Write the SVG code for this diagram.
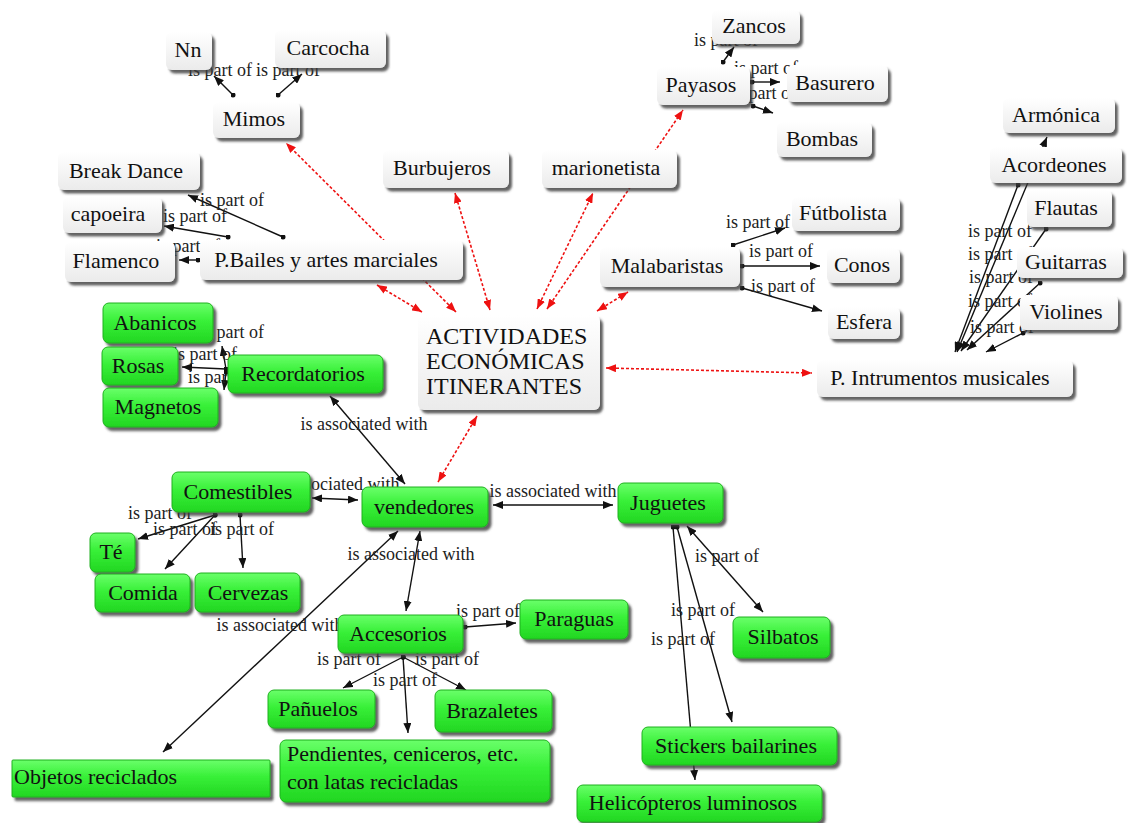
<svg xmlns="http://www.w3.org/2000/svg" width="1130" height="823" viewBox="0 0 1130 823">
<defs>
<linearGradient id="gGray" x1="0" y1="0" x2="0" y2="1"><stop offset="0" stop-color="#ffffff"/><stop offset="1" stop-color="#ebebeb"/></linearGradient>
<linearGradient id="gGreen" x1="0" y1="0" x2="0" y2="1"><stop offset="0" stop-color="#6aff6a"/><stop offset="0.45" stop-color="#38f038"/><stop offset="1" stop-color="#22d622"/></linearGradient>
<filter id="sh" x="-10%" y="-20%" width="130%" height="170%"><feDropShadow dx="3" dy="3.5" stdDeviation="1.2" flood-color="#3a3a3a" flood-opacity="0.8"/></filter>
<marker id="ar" viewBox="0 0 10 8" refX="10" refY="4" markerWidth="10" markerHeight="8" markerUnits="userSpaceOnUse" orient="auto-start-reverse"><path d="M0,0 L10,4 L0,8 z" fill="#111"/></marker>
<marker id="arr" viewBox="0 0 10 8" refX="10" refY="4" markerWidth="10" markerHeight="8" markerUnits="userSpaceOnUse" orient="auto-start-reverse"><path d="M0,0 L10,4 L0,8 z" fill="#ee1111"/></marker>
<marker id="dot" viewBox="0 0 6 6" refX="3" refY="3" markerWidth="5" markerHeight="5" markerUnits="userSpaceOnUse"><circle cx="3" cy="3" r="3" fill="#111"/></marker>
</defs>
<style>
.k{stroke:#111;stroke-width:1.4;fill:none}
.p{marker-start:url(#dot);marker-end:url(#ar)}
.a{marker-start:url(#ar);marker-end:url(#ar)}
.r{stroke:#ee1111;stroke-width:1.6;fill:none;stroke-dasharray:3 2;marker-start:url(#arr);marker-end:url(#arr)}
text{font-family:'Liberation Serif','Times New Roman','DejaVu Serif',serif}
.l{font-size:18px;fill:#222;text-anchor:middle}
.t{font-size:22px;fill:#111;text-anchor:middle}
.s{text-anchor:start}
.big{font-size:24px}
.gy{fill:url(#gGray);filter:url(#sh)}
.gr{fill:url(#gGreen);stroke:#1eb01e;stroke-width:1;filter:url(#sh)}
</style>
<rect width="1130" height="823" fill="#ffffff"/>
<g id="connectors">
<line class="r" x1="456" y1="312" x2="286" y2="143"/>
<line class="r" x1="422" y1="312" x2="377" y2="285"/>
<line class="r" x1="490" y1="310" x2="455" y2="193"/>
<line class="r" x1="537" y1="309" x2="593" y2="193"/>
<line class="r" x1="547" y1="309" x2="683" y2="110"/>
<line class="r" x1="597" y1="311" x2="628" y2="292"/>
<line class="r" x1="606" y1="368" x2="812" y2="373"/>
<line class="r" x1="477" y1="416" x2="438" y2="482"/>

<line class="k p" x1="233" y1="95" x2="214" y2="76"/>
<line class="k p" x1="278" y1="95" x2="302" y2="74"/>
<line class="k p" x1="283" y1="237" x2="188" y2="195"/>
<line class="k p" x1="228" y1="237" x2="164" y2="226"/>
<line class="k p" x1="198" y1="260" x2="179" y2="260"/>
<line class="k p" x1="723" y1="62" x2="734" y2="47"/>
<line class="k p" x1="752" y1="82" x2="780" y2="82"/>
<line class="k p" x1="753" y1="106" x2="773" y2="113"/>
<line class="k p" x1="733" y1="245" x2="785" y2="228"/>
<line class="k p" x1="742" y1="266" x2="820" y2="266"/>
<line class="k p" x1="742" y1="288" x2="822" y2="311"/>
<line class="k a" x1="1047" y1="137" x2="957" y2="352"/>
<line class="k p" x1="1018" y1="185" x2="955" y2="352"/>
<line class="k p" x1="1046" y1="229" x2="961" y2="351"/>
<line class="k p" x1="1040" y1="283" x2="967" y2="350"/>
<line class="k p" x1="1023" y1="333" x2="986" y2="352"/>
<line class="k p" x1="226" y1="369" x2="222" y2="346"/>
<line class="k p" x1="226" y1="369" x2="182" y2="367"/>
<line class="k p" x1="226" y1="372" x2="224" y2="390"/>
<line class="k p" x1="215" y1="515" x2="138" y2="539"/>
<line class="k p" x1="215" y1="515" x2="165" y2="569"/>
<line class="k p" x1="240" y1="515" x2="243" y2="568"/>
<line class="k p" x1="465" y1="627" x2="516" y2="623"/>
<line class="k p" x1="403" y1="657" x2="343" y2="688"/>
<line class="k p" x1="403" y1="657" x2="408" y2="733"/>
<line class="k p" x1="403" y1="657" x2="466" y2="690"/>
<line class="k a" x1="687" y1="526" x2="763" y2="612"/>
<line class="k p" x1="677" y1="527" x2="732" y2="722"/>
<line class="k p" x1="673" y1="527" x2="695" y2="780"/>
<line class="k a" x1="330" y1="396" x2="405" y2="484"/>
<line class="k a" x1="312" y1="498" x2="358" y2="500"/>
<line class="k a" x1="493" y1="505" x2="613" y2="505"/>
<line class="k a" x1="420" y1="531" x2="406" y2="611"/>
<line class="k a" x1="398" y1="531" x2="163" y2="752"/>

<text class="l" x="220" y="76">is part of</text>
<text class="l" x="288" y="76">is part of</text>
<text class="l" x="232" y="206">is part of</text>
<text class="l" x="195" y="222">is part of</text>
<text class="l" x="188" y="252">is part of</text>
<text class="l" x="726" y="46">is part of</text>
<text class="l" x="766" y="74">is part of</text>
<text class="l" x="764" y="99">is part of</text>
<text class="l" x="758" y="228">is part of</text>
<text class="l" x="781" y="257">is part of</text>
<text class="l" x="783" y="292">is part of</text>
<text class="l" x="1000" y="237">is part of</text>
<text class="l" x="1000" y="260">is part of</text>
<text class="l" x="1001" y="283">is part of</text>
<text class="l" x="1000" y="307">is part of</text>
<text class="l" x="1002" y="333">is part of</text>
<text class="l" x="232" y="338">is part of</text>
<text class="l" x="205" y="360">is part of</text>
<text class="l" x="220" y="383">is part of</text>
<text class="l" x="364" y="430">is associated with</text>
<text class="l" x="336" y="490">is associated with</text>
<text class="l" x="553" y="497">is associated with</text>
<text class="l" x="411" y="560">is associated with</text>
<text class="l" x="280" y="631">is associated with</text>
<text class="l" x="160" y="519">is part of</text>
<text class="l" x="185" y="535">is part of</text>
<text class="l" x="242" y="535">is part of</text>
<text class="l" x="488" y="617">is part of</text>
<text class="l" x="349" y="665">is part of</text>
<text class="l" x="447" y="665">is part of</text>
<text class="l" x="405" y="686">is part of</text>
<text class="l" x="727" y="562">is part of</text>
<text class="l" x="703" y="616">is part of</text>
<text class="l" x="683" y="645">is part of</text>
</g>

<g id="n-nn"><rect class="gy" x="166" y="32" width="46" height="38" rx="6"/><text class="t" x="188" y="57">Nn</text></g>
<g id="n-carcocha"><rect class="gy" x="275" y="30" width="111" height="38" rx="6"/><text class="t" x="328" y="55">Carcocha</text></g>
<g id="n-mimos"><rect class="gy" x="213" y="102" width="87" height="36" rx="6"/><text class="t" x="254" y="126">Mimos</text></g>
<g id="n-breakdance"><rect class="gy" x="58" y="152" width="142" height="38" rx="6"/><text class="t" x="126" y="178">Break Dance</text></g>
<g id="n-capoeira"><rect class="gy" x="63" y="197" width="99" height="36" rx="6"/><text class="t" x="108" y="221">capoeira</text></g>
<g id="n-flamenco"><rect class="gy" x="65" y="242" width="110" height="40" rx="6"/><text class="t" x="116" y="268">Flamenco</text></g>
<g id="n-pbailes"><rect class="gy" x="200" y="240" width="263" height="40" rx="6"/><text class="t" x="326" y="267">P.Bailes y artes marciales</text></g>
<g id="n-burbujeros"><rect class="gy" x="383" y="150" width="126" height="38" rx="6"/><text class="t" x="442" y="175">Burbujeros</text></g>
<g id="n-marionetista"><rect class="gy" x="542" y="150" width="135" height="38" rx="6"/><text class="t" x="606" y="175">marionetista</text></g>
<g id="n-payasos"><rect class="gy" x="657" y="67" width="93" height="38" rx="6"/><text class="t" x="701" y="92">Payasos</text></g>
<g id="n-zancos"><rect class="gy" x="712" y="10" width="88" height="34" rx="6"/><text class="t" x="754" y="33">Zancos</text></g>
<g id="n-basurero"><rect class="gy" x="787" y="65" width="101" height="37" rx="6"/><text class="t" x="835" y="90">Basurero</text></g>
<g id="n-bombas"><rect class="gy" x="777" y="122" width="95" height="35" rx="6"/><text class="t" x="822" y="146">Bombas</text></g>
<g id="n-malabaristas"><rect class="gy" x="600" y="247" width="140" height="40" rx="6"/><text class="t" x="667" y="273">Malabaristas</text></g>
<g id="n-futbolista"><rect class="gy" x="792" y="197" width="108" height="34" rx="6"/><text class="t" x="843" y="220">Fútbolista</text></g>
<g id="n-conos"><rect class="gy" x="827" y="248" width="73" height="35" rx="6"/><text class="t" x="862" y="272">Conos</text></g>
<g id="n-esfera"><rect class="gy" x="828" y="307" width="72" height="32" rx="6"/><text class="t" x="864" y="329">Esfera</text></g>
<g id="n-armonica"><rect class="gy" x="1003" y="98" width="112" height="35" rx="6"/><text class="t" x="1056" y="122">Armónica</text></g>
<g id="n-acordeones"><rect class="gy" x="990" y="147" width="132" height="36" rx="6"/><text class="t" x="1054" y="172">Acordeones</text></g>
<g id="n-flautas"><rect class="gy" x="1027" y="190" width="85" height="37" rx="6"/><text class="t" x="1066" y="215">Flautas</text></g>
<g id="n-guitarras"><rect class="gy" x="1017" y="247" width="106" height="31" rx="6"/><text class="t" x="1066" y="269">Guitarras</text></g>
<g id="n-violines"><rect class="gy" x="1020" y="295" width="98" height="35" rx="6"/><text class="t" x="1066" y="319">Violines</text></g>
<g id="n-pinstrumentos"><rect class="gy" x="817" y="360" width="256" height="37" rx="6"/><text class="t" x="940" y="385">P. Intrumentos musicales</text></g>
<g id="n-actividades"><rect class="gy" x="418" y="315" width="182" height="95" rx="6"/><text class="t s big" x="426" y="344">ACTIVIDADES</text><text class="t s big" x="426" y="369">ECONÓMICAS</text><text class="t s big" x="426" y="394">ITINERANTES</text></g>

<g id="n-abanicos"><rect class="gr" x="103" y="303" width="110" height="40" rx="6"/><text class="t" x="155" y="330">Abanicos</text></g>
<g id="n-rosas"><rect class="gr" x="102" y="347" width="76" height="38" rx="6"/><text class="t" x="138" y="373">Rosas</text></g>
<g id="n-magnetos"><rect class="gr" x="103" y="388" width="115" height="39" rx="6"/><text class="t" x="158" y="414">Magnetos</text></g>
<g id="n-recordatorios"><rect class="gr" x="228" y="355" width="155" height="38" rx="6"/><text class="t" x="303" y="381">Recordatorios</text></g>
<g id="n-comestibles"><rect class="gr" x="172" y="472" width="138" height="40" rx="6"/><text class="t" x="238" y="499">Comestibles</text></g>
<g id="n-vendedores"><rect class="gr" x="362" y="487" width="126" height="40" rx="6"/><text class="t" x="424" y="514">vendedores</text></g>
<g id="n-juguetes"><rect class="gr" x="618" y="483" width="105" height="40" rx="6"/><text class="t" x="668" y="510">Juguetes</text></g>
<g id="n-te"><rect class="gr" x="90" y="533" width="45" height="39" rx="6"/><text class="t" x="111" y="559">Té</text></g>
<g id="n-comida"><rect class="gr" x="95" y="574" width="95" height="38" rx="6"/><text class="t" x="143" y="600">Comida</text></g>
<g id="n-cervezas"><rect class="gr" x="195" y="573" width="105" height="39" rx="6"/><text class="t" x="248" y="600">Cervezas</text></g>
<g id="n-accesorios"><rect class="gr" x="338" y="615" width="125" height="38" rx="6"/><text class="t" x="398" y="641">Accesorios</text></g>
<g id="n-paraguas"><rect class="gr" x="520" y="600" width="108" height="39" rx="6"/><text class="t" x="574" y="626">Paraguas</text></g>
<g id="n-silbatos"><rect class="gr" x="733" y="617" width="97" height="41" rx="6"/><text class="t" x="783" y="644">Silbatos</text></g>
<g id="n-panuelos"><rect class="gr" x="268" y="690" width="107" height="38" rx="6"/><text class="t" x="318" y="716">Pañuelos</text></g>
<g id="n-brazaletes"><rect class="gr" x="435" y="690" width="117" height="42" rx="6"/><text class="t" x="492" y="718">Brazaletes</text></g>
<g id="n-pendientes"><rect class="gr" x="280" y="740" width="270" height="62" rx="6"/><text class="t s" x="287" y="761">Pendientes, ceniceros, etc.</text><text class="t s" x="287" y="789">con latas recicladas</text></g>
<g id="n-objetos"><rect class="gr" x="12" y="760" width="258" height="37" rx="1"/><text class="t s" x="14" y="784">Objetos reciclados</text></g>
<g id="n-stickers"><rect class="gr" x="642" y="727" width="195" height="38" rx="6"/><text class="t" x="736" y="753">Stickers bailarines</text></g>
<g id="n-helicopteros"><rect class="gr" x="577" y="785" width="245" height="37" rx="6"/><text class="t" x="693" y="810">Helicópteros luminosos</text></g>
</svg>
